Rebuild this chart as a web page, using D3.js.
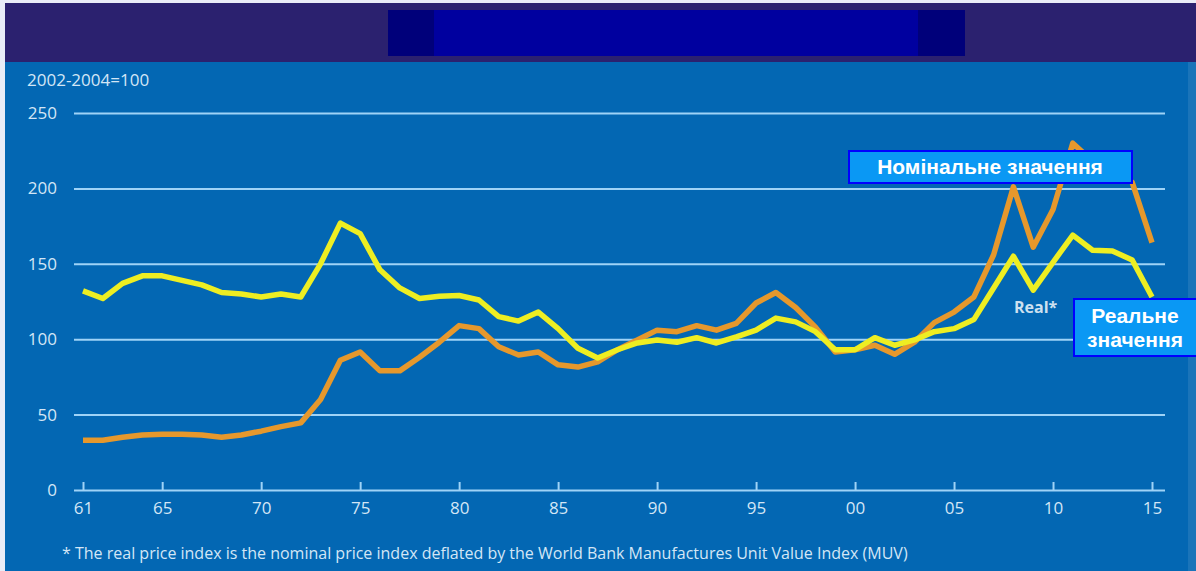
<!DOCTYPE html>
<html>
<head>
<meta charset="utf-8">
<script src="https://cdn.jsdelivr.net/npm/d3@7"></script>
<style>
  html, body { margin: 0; padding: 0; background: #ffffff; }
  svg { display: block; }
</style>
</head>
<body>
<svg id="chart" width="1196" height="571"></svg>
<script>
// years and index values (2002-2004=100)
let years = d3.range(1961, 2016);
let nominal = [33, 33, 35, 36.5, 37, 37, 36.5, 35, 36.5, 39, 42, 44.5, 60, 86, 91.5, 79, 79, 88, 98, 109,
               107, 95, 89.5, 91.5, 83, 81.5, 85, 93, 99.5, 106, 105, 109, 106, 110.5, 124, 131, 121, 108, 91.5, 93,
               96, 90, 98, 111, 118, 128, 156, 201, 161, 186, 230, 218, 210, 204, 164];
let real = [132, 127, 137, 142, 142, 139, 136, 131, 130, 128, 130, 128, 150, 177, 170, 146, 134, 127, 128.5, 129,
            126, 115, 112, 118, 107, 94, 87.5, 93, 97.5, 99.5, 98, 101, 97.5, 101.5, 106, 114, 111.5, 105, 93, 93,
            101, 96, 99.5, 105, 107, 113, 134, 155, 132.5, 151, 169, 159, 158.5, 152.5, 128];
let yTicks = [0, 50, 100, 150, 200, 250];
let xTicks = [1961, 1965, 1970, 1975, 1980, 1985, 1990, 1995, 2000, 2005, 2010, 2015];

let svg = d3.select('#chart');
let font = '"Open Sans", "DejaVu Sans", sans-serif';
let labelColor = '#d3e6f6';
let gridColor = '#9fd3f7';

// background bands
svg.append('rect').attr('x', 0).attr('y', 0).attr('width', 1196).attr('height', 571).attr('fill', '#e9ecf7');
svg.append('rect').attr('x', 5).attr('y', 3).attr('width', 1191).attr('height', 60).attr('fill', '#2b216f');
svg.append('rect').attr('x', 5).attr('y', 62).attr('width', 1191).attr('height', 509).attr('fill', '#0367b3');
svg.append('rect').attr('x', 1188).attr('y', 62).attr('width', 8).attr('height', 509).attr('fill', '#1a74b9');

// blank title block
svg.append('rect').attr('x', 388).attr('y', 10).attr('width', 577).attr('height', 46).attr('fill', '#00007a');
svg.append('rect').attr('x', 434).attr('y', 10).attr('width', 484).attr('height', 46).attr('fill', '#00009f');

// scales
let x = d3.scaleLinear().domain([1961, 2015]).range([83, 1152]);
let y = d3.scaleLinear().domain([0, 250]).range([490, 113]);

// y gridlines + labels
let yAxis = svg.append('g')
  .attr('transform', 'translate(74,0)')
  .call(d3.axisLeft(y).tickValues(yTicks).tickSize(-(1165 - 74)).tickPadding(17));
yAxis.select('.domain').remove();
yAxis.selectAll('line').attr('stroke', gridColor).attr('stroke-width', 2);
yAxis.selectAll('text').attr('fill', labelColor).style('font-family', font).style('font-size', '17px');

// x ticks (pointing up from the zero line)
let xAxis = svg.append('g')
  .attr('transform', 'translate(0,490)')
  .call(d3.axisBottom(x).tickValues(xTicks).tickSize(-8).tickPadding(12)
    .tickFormat(d => String(d % 100).padStart(2, '0')));
xAxis.select('.domain').remove();
xAxis.selectAll('line').attr('stroke', gridColor).attr('stroke-width', 2);
xAxis.selectAll('text').attr('fill', labelColor).style('font-family', font).style('font-size', '17px');

// unit note
svg.append('text').attr('x', 27).attr('y', 86)
  .attr('fill', labelColor).style('font-family', font).style('font-size', '17px')
  .text('2002-2004=100');

// lines
let line = d3.line().x((d, i) => x(years[i])).y(d => y(d));

svg.append('path').datum(nominal)
  .attr('d', line).attr('fill', 'none')
  .attr('stroke', '#e6982c').attr('stroke-width', 5.5).attr('stroke-linejoin', 'round');
svg.append('path').datum(real)
  .attr('d', line).attr('fill', 'none')
  .attr('stroke', '#eeee22').attr('stroke-width', 5.5).attr('stroke-linejoin', 'round');

// Real* label
svg.append('text').attr('x', 1014).attr('y', 313)
  .attr('fill', '#cde0f0').style('font-family', font).style('font-size', '16px').style('font-weight', 'bold')
  .text('Real*');

// ukrainian label boxes
let boxFont = '"Liberation Sans", Arial, sans-serif';
svg.append('rect').attr('x', 849).attr('y', 151).attr('width', 283).attr('height', 32)
  .attr('fill', '#0a98f4').attr('stroke', '#0000ff').attr('stroke-width', 2);
svg.append('text').attr('x', 990).attr('y', 174).attr('text-anchor', 'middle')
  .attr('fill', '#ffffff').style('font-family', boxFont).style('font-size', '21px').style('font-weight', 'bold')
  .text('Номінальне значення');

svg.append('rect').attr('x', 1074).attr('y', 299).attr('width', 130).attr('height', 57)
  .attr('fill', '#0a98f4').attr('stroke', '#0000ff').attr('stroke-width', 2);
let realLbl = svg.append('text').attr('text-anchor', 'middle')
  .attr('fill', '#ffffff').style('font-family', boxFont).style('font-size', '21px').style('font-weight', 'bold');
realLbl.append('tspan').attr('x', 1135).attr('y', 323).text('Реальне');
realLbl.append('tspan').attr('x', 1135).attr('y', 347).text('значення');

// footnote
svg.append('text').attr('x', 62).attr('y', 559)
  .attr('fill', labelColor).style('font-family', font).style('font-size', '16px')
  .text('* The real price index is the nominal price index deflated by the World Bank Manufactures Unit Value Index (MUV)');
</script>
</body>
</html>
